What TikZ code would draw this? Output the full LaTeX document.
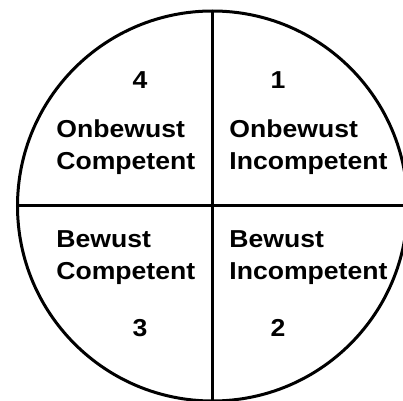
\documentclass[tikz,border=0pt]{standalone}
\usepackage{fontspec}
\setsansfont{Liberation Sans}[FakeStretch=1.085]
\usepackage{tikz}
\usetikzlibrary{positioning}

\tikzset{
    quadtext/.style={anchor=base west, align=left, inner sep=0pt,
        font=\sffamily\bfseries\fontsize{12.25}{15.85}\selectfont},
    quadnum/.style={anchor=base, inner sep=0pt,
        font=\sffamily\bfseries\fontsize{12.25}{15.85}\selectfont}
}

\begin{document}
\begin{tikzpicture}[x=0.5pt, y=-0.5pt]
    % frame of the picture
    \useasboundingbox (0,0) rectangle (403,401);
    \clip (0,0) rectangle (403,401);

    % circle and the two dividing lines
    \coordinate (c) at (212.5,206);
    \draw[line width=1.5pt] (c) circle (195);
    \coordinate (top) at (212.5,11);
    \coordinate (bottom) at (212.5,405);
    \coordinate (left) at (17.5,206);
    \coordinate (right) at (405,206);
    \draw[line width=1.5pt] (top) -- (bottom);
    \draw[line width=1.5pt] (left) -- (right);

    % Quadrant 4: top left (base = last line)
    \node[quadnum] (n4) at (140,88.3) {4};
    \node[quadtext] (q4) at (56,169.3) {Onbewust\\Competent};

    % Quadrant 1: top right
    \node[quadnum] (n1) at (278,88.3) {1};
    \node[quadtext] (q1) at (229,169.3) {Onbewust\\Incompetent};

    % Quadrant 3: bottom left
    \node[quadtext] (q3) at (56,279.3) {Bewust\\Competent};
    \node[quadnum] (n3) at (140,336.7) {3};

    % Quadrant 2: bottom right
    \node[quadtext] (q2) at (229,279.3) {Bewust\\Incompetent};
    \node[quadnum] (n2) at (278,336.7) {2};
\end{tikzpicture}
\end{document}
